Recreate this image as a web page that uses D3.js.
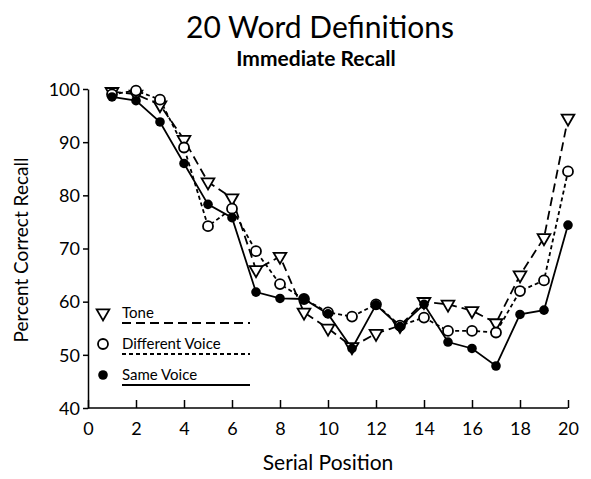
<!DOCTYPE html>
<html>
<head>
<meta charset="utf-8">
<title>20 Word Definitions</title>
<style>
body { margin: 0; background: #fff; }
svg text { font-family: "Lato", "DejaVu Sans", sans-serif; fill: #000; }
.axis path, .axis line { stroke: #000; stroke-width: 1.5px; }
.axis text { font-size: 18px; }
</style>
</head>
<body>
<svg width="591" height="479"></svg>
<script src="https://cdn.jsdelivr.net/npm/d3@7"></script>
<script>

// serial positions 1..20
var positions = d3.range(1, 21);

var tone = [99.5, 99, 97, 90.5, 82.5, 79.5, 66, 68.5, 58, 55, 51.5, 54, 55.5, 60, 59.5, 58.3, 56, 65, 72, 94.5];
var differentVoice = [99, 99.7, 98, 89, 74.2, 77.5, 69.5, 63.3, 60.5, 58, 57.2, 59.5, 55.5, 57, 54.5, 54.5, 54.2, 62, 64, 84.5];
var sameVoice = [98.5, 97.8, 93.8, 86, 78.3, 75.8, 61.8, 60.6, 60.5, 57.7, 51.2, 59.4, 55.3, 59.5, 52.4, 51.2, 47.9, 57.6, 58.4, 74.4];

var xTicks = d3.range(0, 21, 2);
var yTicks = [40, 50, 60, 70, 80, 90, 100];

var svg = d3.select("svg");

var x = d3.scaleLinear().domain([0, 20]).range([88, 568]);
var y = d3.scaleLinear().domain([40, 100]).range([408, 89]);

// axes
svg.append("g")
    .attr("class", "axis")
    .attr("transform", "translate(0," + y(40) + ")")
    .call(d3.axisBottom(x).tickValues(xTicks).tickSizeInner(-8).tickSizeOuter(0).tickPadding(14).tickFormat(d3.format("d")))
    .call(function(g) { g.select(".domain").attr("d", "M" + x(0) + ",0H" + x(20)); });

svg.append("g")
    .attr("class", "axis")
    .attr("transform", "translate(" + x(0) + ",0)")
    .call(d3.axisLeft(y).tickValues(yTicks).tickSizeInner(5).tickSizeOuter(0).tickPadding(3))
    .call(function(g) { g.selectAll("text").attr("dy", "0.35em"); });

var series = [
  {name: "Tone", values: tone, dash: "9,5", marker: "tri"},
  {name: "Different Voice", values: differentVoice, dash: "4,3", marker: "open"},
  {name: "Same Voice", values: sameVoice, dash: null, marker: "dot"}
];

var line = d3.line()
    .x(function(d, i) { return x(positions[i]); })
    .y(function(d) { return y(d); });

series.forEach(function(s) {
  svg.append("path")
      .datum(s.values)
      .attr("fill", "none")
      .attr("stroke", "#000")
      .attr("stroke-width", 1.8)
      .attr("stroke-dasharray", s.dash)
      .attr("d", line);
});

var tri = d3.symbol().type(d3.symbolTriangle).size(70);

function drawMarker(g, type) {
  if (type === "tri") {
    g.append("path").attr("d", tri).attr("transform", "rotate(180)")
        .attr("fill", "#fff").attr("stroke", "#000").attr("stroke-width", 1.8);
  } else if (type === "open") {
    g.append("circle").attr("r", 5).attr("fill", "#fff").attr("stroke", "#000").attr("stroke-width", 1.8);
  } else {
    g.append("circle").attr("r", 4.8).attr("fill", "#000");
  }
}

series.forEach(function(s) {
  svg.append("g").selectAll("g")
      .data(s.values)
    .enter().append("g")
      .attr("transform", function(d, i) { return "translate(" + x(positions[i]) + "," + y(d) + ")"; })
      .each(function() { drawMarker(d3.select(this), s.marker); });
});

// legend
var legend = svg.append("g");
series.forEach(function(s, i) {
  var ly = 313 + i * 31;
  var m = legend.append("g").attr("transform", "translate(103," + ly + ")");
  drawMarker(m, s.marker);
  legend.append("text")
      .attr("x", 122).attr("y", ly + 5)
      .style("font-size", "15px")
      .text(s.name);
  legend.append("line")
      .attr("x1", 122).attr("x2", 250)
      .attr("y1", ly + 10).attr("y2", ly + 10)
      .attr("stroke", "#000").attr("stroke-width", 1.8)
      .attr("stroke-dasharray", s.dash);
});

// titles
svg.append("text")
    .attr("x", 320).attr("y", 38)
    .attr("text-anchor", "middle")
    .style("font-size", "30px")
    .text("20 Word Definitions");

svg.append("text")
    .attr("x", 316).attr("y", 66)
    .attr("text-anchor", "middle")
    .style("font-size", "21px")
    .style("font-weight", "bold")
    .text("Immediate Recall");

svg.append("text")
    .attr("transform", "translate(28,250) rotate(-90)")
    .attr("text-anchor", "middle")
    .style("font-size", "19px")
    .text("Percent Correct Recall");

svg.append("text")
    .attr("x", 328).attr("y", 470)
    .attr("text-anchor", "middle")
    .style("font-size", "21px")
    .text("Serial Position");

</script>
</body>
</html>
